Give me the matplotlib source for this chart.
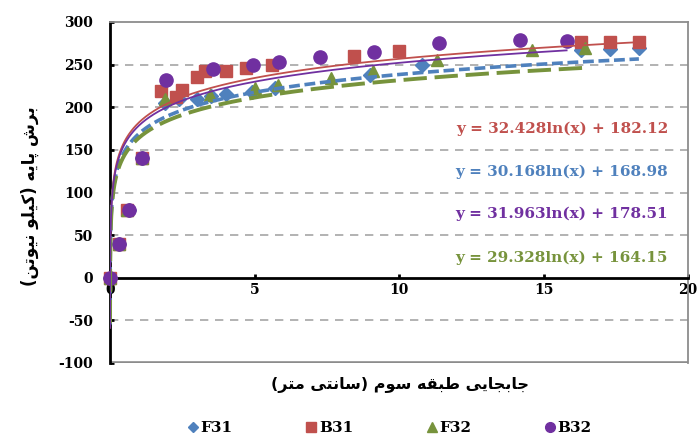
import numpy as np
import matplotlib
matplotlib.use("Agg")
import matplotlib.pyplot as plt
from matplotlib.lines import Line2D

plt.rcParams['axes.unicode_minus'] = False

# --- data ---
f31_x = [0, 0.3, 0.65, 1.1, 1.9, 2.4, 3.0, 3.5, 4.0, 4.9, 5.7, 9.0, 10.8, 16.3, 17.3, 18.3]
f31_y = [0, 40, 80, 140, 205, 210, 210, 213, 215, 218, 222, 238, 249, 267, 268, 270]

b31_x = [0, 0.3, 0.6, 1.1, 1.75, 2.3, 2.5, 3.0, 3.3, 4.0, 4.7, 5.6, 8.45, 10.0, 16.3, 17.3, 18.3]
b31_y = [0, 40, 80, 140, 219, 212, 220, 235, 243, 243, 246, 249, 260, 266, 276, 276, 276]

f32_x = [0, 0.3, 0.6, 1.1, 1.9, 3.45, 5.0, 5.8, 7.65, 9.1, 11.3, 14.6, 16.45]
f32_y = [0, 40, 80, 140, 210, 214, 222, 226, 234, 243, 255, 267, 269]

b32_x = [0, 0.3, 0.65, 1.1, 1.95, 3.55, 4.95, 5.85, 7.25, 9.15, 11.4, 14.2, 15.8]
b32_y = [0, 40, 80, 140, 232, 245, 249, 253, 259, 265, 275, 279, 278]

# log trendline coefficients shown on the chart (a*ln(x) + b)
trend_a = [32.428, 30.168, 31.963, 29.328]
trend_b = [182.12, 168.98, 178.51, 164.15]
trend_end = [18.3, 18.3, 15.8, 16.45]     # red, blue, purple, green
trend_text = ["y = 32.428ln(x) + 182.12", "y = 30.168ln(x) + 168.98",
              "y = 31.963ln(x) + 178.51", "y = 29.328ln(x) + 164.15"]

c_blue = "#4F81BD"
c_red = "#C0504D"
c_green = "#77933C"
c_purple = "#7030A0"

x_label = "جابجایی طبقه سوم (سانتی متر)"
y_label = "برش پایه (کیلو نیوتن)"

# simple persian shaping (presentation forms) : iso, fin, ini, med
FORMS = {
    'ا': ('\uFE8D', '\uFE8E', None, None),
    'ب': ('\uFE8F', '\uFE90', '\uFE91', '\uFE92'),
    'پ': ('\uFB56', '\uFB57', '\uFB58', '\uFB59'),
    'ت': ('\uFE95', '\uFE96', '\uFE97', '\uFE98'),
    'ج': ('\uFE9D', '\uFE9E', '\uFE9F', '\uFEA0'),
    'ر': ('\uFEAD', '\uFEAE', None, None),
    'س': ('\uFEB1', '\uFEB2', '\uFEB3', '\uFEB4'),
    'ش': ('\uFEB5', '\uFEB6', '\uFEB7', '\uFEB8'),
    'ط': ('\uFEC1', '\uFEC2', '\uFEC3', '\uFEC4'),
    'ق': ('\uFED5', '\uFED6', '\uFED7', '\uFED8'),
    'ک': ('\uFB8E', '\uFB8F', '\uFB90', '\uFB91'),
    'ل': ('\uFEDD', '\uFEDE', '\uFEDF', '\uFEE0'),
    'م': ('\uFEE1', '\uFEE2', '\uFEE3', '\uFEE4'),
    'ن': ('\uFEE5', '\uFEE6', '\uFEE7', '\uFEE8'),
    'ه': ('\uFEE9', '\uFEEA', '\uFEEB', '\uFEEC'),
    'و': ('\uFEED', '\uFEEE', None, None),
    'ی': ('\uFBFC', '\uFBFD', '\uFBFE', '\uFBFF'),
}


def shape(s):
    out = []
    for i, ch in enumerate(s):
        if ch not in FORMS:
            out.append(ch)
            continue
        prev = s[i - 1] if i > 0 else ''
        nxt = s[i + 1] if i + 1 < len(s) else ''
        p = prev in FORMS and FORMS[prev][2] is not None
        n = nxt in FORMS and FORMS[ch][2] is not None
        iso, fin, ini, med = FORMS[ch]
        if p and n:
            out.append(med)
        elif p:
            out.append(fin)
        elif n:
            out.append(ini)
        else:
            out.append(iso)
    vis = ''.join(out)[::-1]
    return vis.translate(str.maketrans('()', ')('))


fig = plt.figure(figsize=(6.97, 4.42), dpi=100)
ax = fig.add_axes([110 / 697, 1 - 363 / 442, 578 / 697, 341 / 442])

ax.set_xlim(0, 20)
ax.set_ylim(-100, 300)

ax.plot(f31_x, f31_y, 'D', color=c_blue, ms=7.5, zorder=3, clip_on=False)
ax.plot(b31_x, b31_y, 's', color=c_red, ms=9, zorder=3, clip_on=False)
ax.plot(f32_x, f32_y, '^', color=c_green, ms=9, zorder=3, clip_on=False)
ax.plot(b32_x, b32_y, 'o', color=c_purple, ms=9.5, zorder=3, clip_on=False)

# trendlines
styles = [
    dict(color=c_red, lw=1.3, ls='-'),
    dict(color=c_blue, lw=2.6, ls=(0, (3, 1.3))),
    dict(color=c_purple, lw=1.3, ls='-'),
    dict(color=c_green, lw=2.8, ls=(0, (6, 2))),
]
order = [1, 0, 3, 2]
for k in order:
    xs = np.geomspace(0.0006, trend_end[k], 400)
    ax.plot(xs, trend_a[k] * np.log(xs) + trend_b[k], zorder=4, **styles[k])

# equation labels
eq_colors = [c_red, c_blue, c_purple, c_green]
eq_y = [129, 172, 214, 258]
for t, c, yy in zip(trend_text, eq_colors, eq_y):
    fig.text(668 / 697, 1 - yy / 442, t, color=c, ha='right', va='center',
             fontsize=11, fontweight='bold', family='DejaVu Serif')

# axes styling
ax.spines['bottom'].set_position(('data', 0))
ax.spines['bottom'].set_color('black')
ax.spines['bottom'].set_linewidth(2)
ax.spines['left'].set_color('black')
ax.spines['left'].set_linewidth(2)
for s in ['top', 'right']:
    ax.spines[s].set_color('#8C8C8C')
    ax.spines[s].set_linewidth(1.3)
ax.axhline(-100, color='#8C8C8C', lw=2.6, zorder=2)

ax.set_yticks(np.arange(-100, 301, 50))
ax.set_xticks(np.arange(0, 21, 5))
ax.tick_params(axis='both', direction='in', length=3, width=2, colors='black')
ax.tick_params(axis='y', pad=12)
ax.tick_params(axis='x', pad=4)
for lab in ax.get_xticklabels() + ax.get_yticklabels():
    lab.set_fontfamily('DejaVu Serif')
    lab.set_fontweight('bold')
    lab.set_fontsize(10)

for g in [-50, 50, 100, 150, 200, 250]:
    ax.axhline(g, color='#A6A6A6', lw=1.2, ls=(0, (5, 4)), zorder=1)

fig.text(400 / 697, 1 - 385 / 442, shape(x_label), ha='center', va='center',
         fontsize=11.5, fontweight='bold', family=['DejaVu Sans'])
fig.text(30 / 697, 1 - 196 / 442, shape(y_label), ha='center', va='center',
         rotation=90, fontsize=12, fontweight='bold', family=['DejaVu Sans'])

# legend with equal small markers
handles = [Line2D([], [], ls='', marker='D', color=c_blue, ms=5.5),
           Line2D([], [], ls='', marker='s', color=c_red, ms=6.5),
           Line2D([], [], ls='', marker='^', color=c_green, ms=6.5),
           Line2D([], [], ls='', marker='o', color=c_purple, ms=7)]
names = ['F31', 'B31', 'F32', 'B32']
leg = fig.legend(handles, names, loc='center', bbox_to_anchor=(390 / 697, 1 - 428 / 442), ncol=4,
                 frameon=False, handlelength=0.6, handletextpad=0.2,
                 columnspacing=4.85,
                 prop=dict(family='DejaVu Serif', weight='bold', size=11))

fig.savefig('out.png', dpi=100)
